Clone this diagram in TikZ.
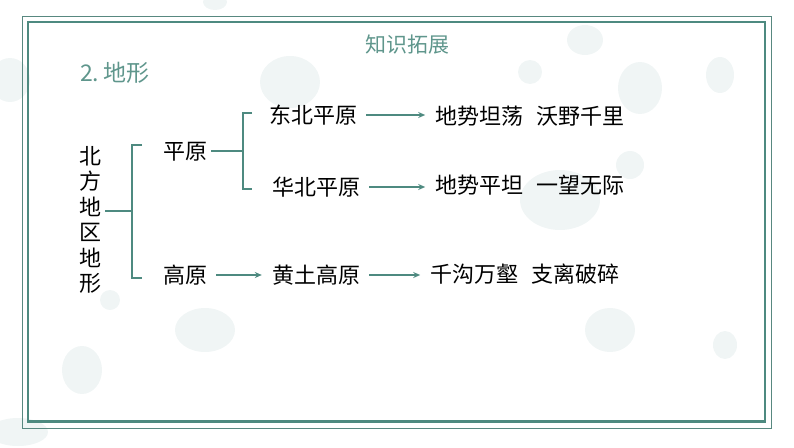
\documentclass[tikz,border=0pt]{standalone}
\usepackage{fontspec}
\usepackage{tikz}
\usetikzlibrary{arrows.meta}
\newfontfamily\cjk{Noto Sans CJK SC}
\definecolor{frame}{RGB}{78,138,128}
\definecolor{heading}{RGB}{95,150,140}
\definecolor{blot}{RGB}{240,245,245}
\tikzset{
	term/.style={font=\cjk\fontsize{22}{25}\selectfont, inner sep=4pt},
	branch/.style={draw=frame, line width=2pt},
	lead/.style={draw=frame, line width=2pt, -{Stealth[length=7pt,width=6pt]}, shorten <=5pt, shorten >=6pt},
	splash/.style={fill=blot, draw=none}
}
\begin{document}
\begin{tikzpicture}[x=1pt,y=-1pt]
	\useasboundingbox (0,0) rectangle (794,447);

	% faint ink blots
	\fill[splash] (290,82) ellipse (30 and 26);
	\fill[splash] (215,2) ellipse (12 and 8);
	\fill[splash] (585,40) ellipse (18 and 15);
	\fill[splash] (530,72) ellipse (12 and 12);
	\fill[splash] (640,88) ellipse (22 and 26);
	\fill[splash] (720,75) ellipse (14 and 18);
	\fill[splash] (10,80) ellipse (20 and 22);
	\fill[splash] (205,330) ellipse (30 and 22);
	\fill[splash] (630,165) ellipse (14 and 14);
	\fill[splash] (560,200) ellipse (40 and 30);
	\fill[splash] (82,370) ellipse (20 and 24);
	\fill[splash] (610,330) ellipse (25 and 22);
	\fill[splash] (725,345) ellipse (12 and 14);
	\fill[splash] (18,432) ellipse (30 and 14);
	\fill[splash] (110,300) ellipse (10 and 10);

	% frame
	\draw[frame!80!gray, line width=0.8pt] (22.5,16.5) rectangle (771,428);
	\draw[frame, line width=2.8pt] (28,22) rectangle (765,421.5);

	\node[font=\cjk\fontsize{21}{25}\selectfont, text=heading] (title) at (407,45) {知识拓展};
	\node[font=\cjk\fontsize{23}{25}\selectfont, text=heading, anchor=west, inner sep=0pt] (topic) at (80,73) {2.\,地形};

	\node[term, align=center, font=\cjk\fontsize{22}{25.5}\selectfont] (north) at (90,220) {北\\方\\地\\区\\地\\形};
	\node[term] (plain) at (185,152) {平原};
	\node[term] (plateau) at (185,275) {高原};
	\node[term] (dongbei) at (313,115) {东北平原};
	\node[term] (huabei) at (316,187) {华北平原};
	\node[term] (loess) at (316,275) {黄土高原};
	\node[term] (flat1) at (530,116) {地势坦荡\hspace{0.6em}沃野千里};
	\node[term] (flat2) at (530,185) {地势平坦\hspace{0.6em}一望无际};
	\node[term] (rough) at (525,274) {千沟万壑\hspace{0.6em}支离破碎};

	\coordinate (b1top) at (132,145);
	\coordinate (b1bot) at (132,278);
	\coordinate (b2top) at (243,113);
	\coordinate (b2bot) at (243,189);

	\draw[branch] (north.east |- 0,211) -- (b1top |- 0,211);
	\draw[branch] ([xshift=10pt]b1top) -- (b1top) -- (b1bot) -- ([xshift=10pt]b1bot);
	\draw[branch] (plain.east |- 0,151) -- (b2top |- 0,151);
	\draw[branch] ([xshift=9pt]b2top) -- (b2top) -- (b2bot) -- ([xshift=9pt]b2bot);

	\draw[lead] (plateau.east) -- (loess.west);
	\draw[lead] (dongbei.east) -- (flat1.west |- dongbei.east);
	\draw[lead] (huabei.east) -- (flat2.west |- huabei.east);
	\draw[lead] (loess.east) -- (rough.west |- loess.east);

\end{tikzpicture}
\end{document}
